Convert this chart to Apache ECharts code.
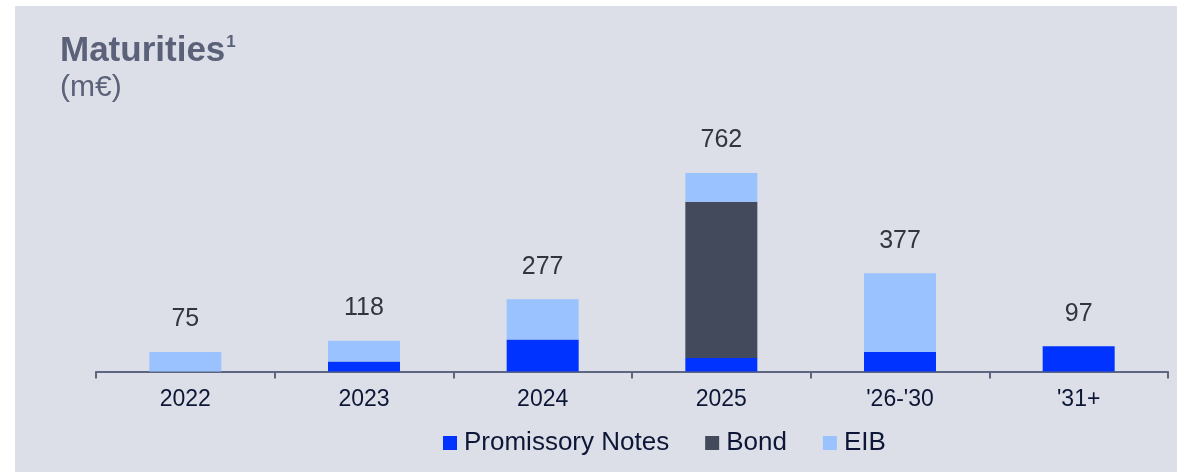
<!DOCTYPE html>
<html>
<head>
<meta charset="utf-8">
<script src="https://cdn.jsdelivr.net/npm/echarts@6/dist/echarts.min.js"></script>
<style>
html,body{margin:0;padding:0;background:#ffffff;}
#chart{width:1185px;height:472px;}
</style>
</head>
<body>
<div id="chart"></div>
<script>
var categories = ['2022', '2023', '2024', '2025', "'26-'30", "'31+"];
var promissoryNotes = [0, 38, 123, 52, 75, 97];
var bond = [0, 0, 0, 600, 0, 0];
var eib = [75, 80, 154, 110, 302, 0];
var totals = [75, 118, 277, 762, 377, 97];

var FONT = 'Arial, "Liberation Sans", sans-serif';
var chart = echarts.init(document.getElementById('chart'));
chart.setOption({
  backgroundColor: '#ffffff',
  animation: false,
  graphic: [{
    type: 'rect', z: -10, silent: true,
    shape: { x: 15, y: 6, width: 1162, height: 466 },
    style: { fill: '#dcdfe7' }
  }],
  title: {
    left: 60, top: 34, padding: 0, itemGap: 4,
    text: '{a|Maturities}{s|1}',
    textStyle: {
      rich: {
        a: { fontFamily: FONT, fontSize: 35, fontWeight: 'bold', color: '#5a6179' },
        s: { fontFamily: FONT, fontSize: 17, fontWeight: 'bold', color: '#5a6179', verticalAlign: 'top', padding: [0, 0, 14, 1] }
      }
    },
    subtext: '(m€)',
    subtextStyle: { fontFamily: FONT, fontSize: 30, color: '#5a6179' }
  },
  legend: {
    left: 438, top: 425,
    itemWidth: 14, itemHeight: 14, itemGap: 36,
    icon: 'rect',
    data: ['Promissory Notes', 'Bond', 'EIB'],
    textStyle: { fontFamily: FONT, fontSize: 26, color: '#0d1636', padding: [0, 0, 0, 2] }
  },
  grid: { left: 96, right: 17, top: 111, bottom: 100.5, containLabel: false },
  xAxis: {
    type: 'category', data: categories,
    axisLine: { lineStyle: { color: '#5d6680', width: 2 } },
    axisTick: { show: true, length: 7, lineStyle: { color: '#5d6680', width: 2 } },
    axisLabel: { fontFamily: FONT, fontSize: 23, color: '#0d1636', margin: 17 }
  },
  yAxis: { type: 'value', min: 0, max: 1000, show: false, splitLine: { show: false } },
  series: [
    { name: 'Promissory Notes', type: 'bar', stack: 'm', barWidth: 72, data: promissoryNotes, itemStyle: { color: '#0033ff' } },
    { name: 'Bond', type: 'bar', stack: 'm', barWidth: 72, data: bond, itemStyle: { color: '#424a5c' } },
    { name: 'EIB', type: 'bar', stack: 'm', barWidth: 72, data: eib, itemStyle: { color: '#9ac2ff' } },
    { name: 'Total', type: 'bar', barWidth: 72, barGap: '-100%', data: totals, silent: true,
      itemStyle: { color: 'rgba(0,0,0,0)' }, z: 1,
      label: { show: true, position: 'top', distance: 20, fontFamily: FONT, fontSize: 25, color: '#33343d' } }
  ]
});
</script>
</body>
</html>
